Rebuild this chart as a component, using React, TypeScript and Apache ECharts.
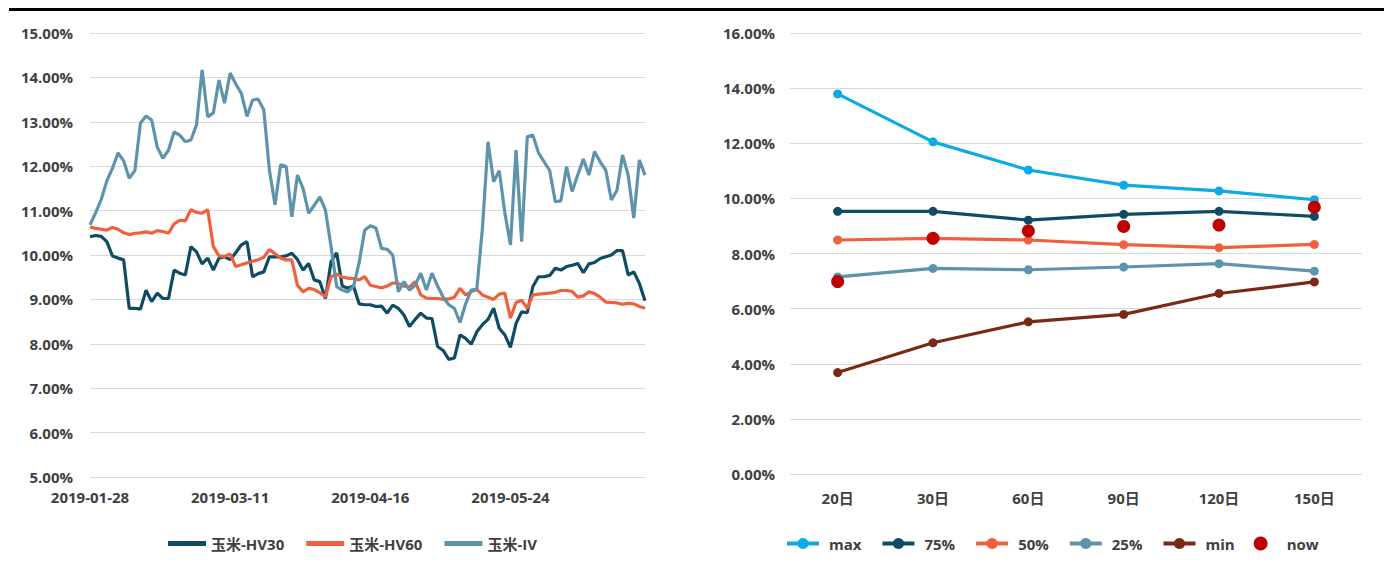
import React, { useEffect, useRef } from "react";
import * as echarts from "echarts";

const dates = [
  "2019-01-28","2019-01-29","2019-01-30","2019-01-31","2019-02-01",
  "2019-02-11","2019-02-12","2019-02-13","2019-02-14","2019-02-15",
  "2019-02-18","2019-02-19","2019-02-20","2019-02-21","2019-02-22",
  "2019-02-25","2019-02-26","2019-02-27","2019-02-28","2019-03-01",
  "2019-03-04","2019-03-05","2019-03-06","2019-03-07","2019-03-08",
  "2019-03-11","2019-03-12","2019-03-13","2019-03-14","2019-03-15",
  "2019-03-18","2019-03-19","2019-03-20","2019-03-21","2019-03-22",
  "2019-03-25","2019-03-26","2019-03-27","2019-03-28","2019-03-29",
  "2019-04-01","2019-04-02","2019-04-03","2019-04-04","2019-04-08",
  "2019-04-09","2019-04-10","2019-04-11","2019-04-12","2019-04-15",
  "2019-04-16","2019-04-17","2019-04-18","2019-04-19","2019-04-22",
  "2019-04-23","2019-04-24","2019-04-25","2019-04-26","2019-04-29",
  "2019-04-30","2019-05-06","2019-05-07","2019-05-08","2019-05-09",
  "2019-05-10","2019-05-13","2019-05-14","2019-05-15","2019-05-16",
  "2019-05-17","2019-05-20","2019-05-21","2019-05-22","2019-05-23",
  "2019-05-24","2019-05-27","2019-05-28","2019-05-29","2019-05-30",
  "2019-05-31","2019-06-03","2019-06-04","2019-06-05","2019-06-06",
  "2019-06-10","2019-06-11","2019-06-12","2019-06-13","2019-06-14",
  "2019-06-17","2019-06-18","2019-06-19","2019-06-20","2019-06-21",
  "2019-06-24","2019-06-25","2019-06-26","2019-06-27","2019-06-28",
];

const hv30 = [
  10.41, 10.44, 10.42, 10.30, 9.98, 9.93, 9.89, 8.80, 8.80, 8.78,
  9.21, 8.95, 9.14, 9.02, 9.02, 9.66, 9.59, 9.55, 10.19, 10.07,
  9.80, 9.93, 9.66, 9.93, 9.96, 9.90, 10.05, 10.23, 10.30, 9.51,
  9.58, 9.62, 9.96, 9.96, 9.96, 9.98, 10.04, 9.90, 9.66, 9.81,
  9.44, 9.40, 9.02, 9.85, 10.05, 9.30, 9.25, 9.30, 8.90, 8.88,
  8.88, 8.84, 8.85, 8.69, 8.87, 8.80, 8.65, 8.39, 8.55, 8.69,
  8.58, 8.57, 7.94, 7.85, 7.65, 7.68, 8.20, 8.12, 7.99, 8.27,
  8.43, 8.55, 8.80, 8.35, 8.20, 7.92, 8.46, 8.72, 8.70, 9.29,
  9.51, 9.51, 9.54, 9.70, 9.66, 9.74, 9.77, 9.81, 9.60, 9.80,
  9.83, 9.92, 9.96, 10.00, 10.10, 10.10, 9.55, 9.62, 9.36, 8.97,
];

const hv60 = [
  10.63, 10.60, 10.58, 10.56, 10.62, 10.58, 10.50, 10.46, 10.49, 10.50,
  10.52, 10.49, 10.55, 10.53, 10.49, 10.70, 10.78, 10.77, 11.02, 10.96,
  10.94, 11.02, 10.19, 9.98, 9.97, 10.02, 9.74, 9.78, 9.82, 9.86,
  9.89, 9.95, 10.12, 10.03, 9.93, 9.89, 9.89, 9.32, 9.17, 9.25,
  9.22, 9.15, 9.06, 9.51, 9.57, 9.50, 9.48, 9.47, 9.44, 9.51,
  9.32, 9.29, 9.26, 9.30, 9.37, 9.36, 9.30, 9.28, 9.40, 9.10,
  9.03, 9.02, 9.02, 9.00, 9.01, 9.05, 9.25, 9.10, 9.17, 9.22,
  9.10, 9.05, 9.00, 9.12, 9.14, 8.58, 8.93, 8.98, 8.80, 9.10,
  9.12, 9.13, 9.14, 9.16, 9.20, 9.20, 9.18, 9.05, 9.08, 9.17,
  9.13, 9.05, 8.94, 8.93, 8.92, 8.89, 8.91, 8.90, 8.84, 8.80,
];

const iv = [
  10.68, 10.95, 11.25, 11.67, 11.95, 12.30, 12.12, 11.73, 11.90, 12.97,
  13.13, 13.04, 12.43, 12.18, 12.36, 12.77, 12.70, 12.55, 12.59, 12.93,
  14.17, 13.11, 13.20, 13.94, 13.42, 14.10, 13.85, 13.64, 13.12, 13.49,
  13.51, 13.27, 11.91, 11.13, 12.03, 11.99, 10.86, 11.80, 11.50, 10.94,
  11.12, 11.31, 11.01, 10.19, 9.29, 9.21, 9.17, 9.29, 9.82, 10.56,
  10.66, 10.61, 10.15, 10.13, 10.00, 9.17, 9.40, 9.21, 9.32, 9.59,
  9.21, 9.59, 9.30, 9.05, 8.88, 8.80, 8.48, 8.90, 9.21, 9.23,
  10.60, 12.55, 11.65, 11.90, 10.95, 10.23, 12.36, 10.30, 12.66, 12.70,
  12.30, 12.10, 11.90, 11.20, 11.22, 11.99, 11.43, 11.80, 12.16, 11.80,
  12.33, 12.10, 11.91, 11.24, 11.46, 12.25, 11.80, 10.83, 12.14, 11.80,
];

const windows = ["20日", "30日", "60日", "90日", "120日", "150日"];
const volMax = [13.79, 12.05, 11.03, 10.48, 10.27, 9.95];
const vol75 = [9.53, 9.53, 9.21, 9.42, 9.53, 9.35];
const vol50 = [8.49, 8.55, 8.49, 8.32, 8.21, 8.33];
const vol25 = [7.15, 7.46, 7.41, 7.51, 7.63, 7.36];
const volMin = [3.68, 4.76, 5.52, 5.79, 6.55, 6.97];
const volNow = [6.98, 8.55, 8.82, 8.98, 9.03, 9.68];

const leftTicks = [5, 15, 1];
const rightTicks = [0, 16, 2];

const FONT = "'Open Sans', 'Noto Sans CJK SC', sans-serif";
const TXT = "#404040";

export default function App() {
  const ref = useRef<HTMLDivElement>(null);

  useEffect(() => {
    if (!ref.current) return;
    const chart = echarts.init(ref.current, undefined, { renderer: "svg" });
    const pct = (v: number) => v.toFixed(2) + "%";
    const labelStyle = { color: TXT, fontSize: 15, fontWeight: "bold", fontFamily: FONT };
    const split = { show: true, lineStyle: { color: "#d9d9d9", width: 1 } };

    const lineS = (name: string, data: number[], color: string, xi: number) => ({
      name,
      type: "line",
      xAxisIndex: xi,
      yAxisIndex: xi,
      data,
      symbol: "none",
      lineStyle: { color, width: 3.2 },
      itemStyle: { color },
    });
    const pointS = (name: string, data: number[], color: string) => ({
      name,
      type: "line",
      xAxisIndex: 1,
      yAxisIndex: 1,
      data,
      symbol: "circle",
      symbolSize: 9,
      lineStyle: { color, width: 3.2 },
      itemStyle: { color },
    });

    chart.setOption({
      animation: false,
      textStyle: { fontFamily: FONT },
      graphic: [
        { type: "rect", shape: { x: 9, y: 8, width: 1375, height: 3 }, style: { fill: "#000" } },
      ],
      grid: [
        { left: 90, right: 739, top: 33, bottom: 94 },
        { left: 790, right: 22, top: 33, bottom: 97 },
      ],
      legend: [
        {
          data: ["玉米-HV30", "玉米-HV60", "玉米-IV"],
          left: 163,
          top: 531,
          icon: "rect",
          itemWidth: 38,
          itemHeight: 5,
          itemGap: 22,
          textStyle: { ...labelStyle },
        },
        {
          data: ["max", "75%", "50%", "25%", "min", "now"],
          left: 780,
          top: 531,
          itemWidth: 32,
          itemHeight: 14,
          itemGap: 19,
          lineStyle: { width: 4 },
          textStyle: { ...labelStyle, padding: [0, 0, 0, 5] },
        },
      ],
      xAxis: [
        {
          type: "category",
          gridIndex: 0,
          data: dates,
          boundaryGap: false,
          axisLine: { show: false },
          axisTick: { show: false },
          axisLabel: { ...labelStyle, interval: 24, margin: 12 },
        },
        {
          type: "category",
          gridIndex: 1,
          data: windows,
          boundaryGap: true,
          axisLine: { show: false },
          axisTick: { show: false },
          axisLabel: { ...labelStyle, margin: 16 },
        },
      ],
      yAxis: [
        {
          type: "value",
          gridIndex: 0,
          min: leftTicks[0],
          max: leftTicks[1],
          interval: leftTicks[2],
          axisLine: { show: false },
          axisTick: { show: false },
          splitLine: split,
          axisLabel: { ...labelStyle, margin: 17, formatter: pct },
        },
        {
          type: "value",
          gridIndex: 1,
          min: rightTicks[0],
          max: rightTicks[1],
          interval: rightTicks[2],
          axisLine: { show: false },
          axisTick: { show: false },
          splitLine: split,
          axisLabel: { ...labelStyle, margin: 15, formatter: pct },
        },
      ],
      series: [
        lineS("玉米-HV30", hv30, "#0e4c63", 0),
        lineS("玉米-HV60", hv60, "#f0603f", 0),
        lineS("玉米-IV", iv, "#5d93ab", 0),
        pointS("max", volMax, "#0eaae2"),
        pointS("75%", vol75, "#0e4c63"),
        pointS("50%", vol50, "#f0603f"),
        pointS("25%", vol25, "#5d93ab"),
        pointS("min", volMin, "#7a2a14"),
        {
          name: "now",
          type: "scatter",
          xAxisIndex: 1,
          yAxisIndex: 1,
          data: volNow,
          symbol: "circle",
          symbolSize: 13,
          itemStyle: { color: "#c00000", opacity: 1 },
          z: 5,
        },
      ],
    });
    return () => chart.dispose();
  }, []);

  return (
    <div
      ref={ref}
      style={{ position: "absolute", left: 0, top: 0, width: 1384, height: 571, background: "#fff" }}
    />
  );
}
